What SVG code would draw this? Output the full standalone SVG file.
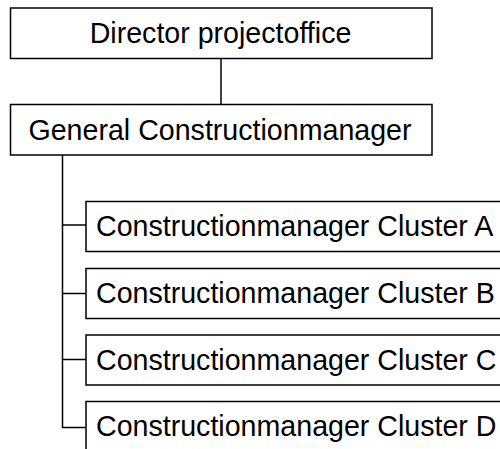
<svg xmlns="http://www.w3.org/2000/svg" width="500" height="449" viewBox="0 0 500 449">
<style>
.box{fill:#fff;stroke:#000;stroke-width:1.5}
.lbl{font-family:"Liberation Sans",Arial,sans-serif;font-size:28.6px;fill:#000}
.c{text-anchor:middle}
.conn{fill:none;stroke:#000;stroke-width:1.5}
</style>
<rect width="500" height="449" fill="#fff"/>
<g id="connectors">
<line class="conn" x1="221" y1="58.5" x2="221" y2="104.5"/>
<polyline class="conn" points="62.5,154.5 62.5,427.5 86,427.5"/>
<line class="conn" x1="62.5" y1="225" x2="86" y2="225"/>
<line class="conn" x1="62.5" y1="293.5" x2="86" y2="293.5"/>
<line class="conn" x1="62.5" y1="359.5" x2="86" y2="359.5"/>
</g>
<g id="director">
<rect class="box" x="10.5" y="8" width="421.5" height="50.5"/>
<text class="lbl c" x="220.5" y="43">Director projectoffice</text>
</g>
<g id="general">
<rect class="box" x="10.5" y="104.5" width="421.5" height="50.5"/>
<text class="lbl c" x="220" y="139.5">General Constructionmanager</text>
</g>
<g id="clusterA">
<rect class="box" x="86" y="201.5" width="430" height="50"/>
<text class="lbl" x="96" y="236">Constructionmanager Cluster A</text>
</g>
<g id="clusterB">
<rect class="box" x="86" y="268.5" width="430" height="50"/>
<text class="lbl" x="96" y="303">Constructionmanager Cluster B</text>
</g>
<g id="clusterC">
<rect class="box" x="86" y="335" width="430" height="50"/>
<text class="lbl" x="96" y="369.5">Constructionmanager Cluster C</text>
</g>
<g id="clusterD">
<rect class="box" x="86" y="401.5" width="430" height="50"/>
<text class="lbl" x="96" y="436">Constructionmanager Cluster D</text>
</g>
</svg>
